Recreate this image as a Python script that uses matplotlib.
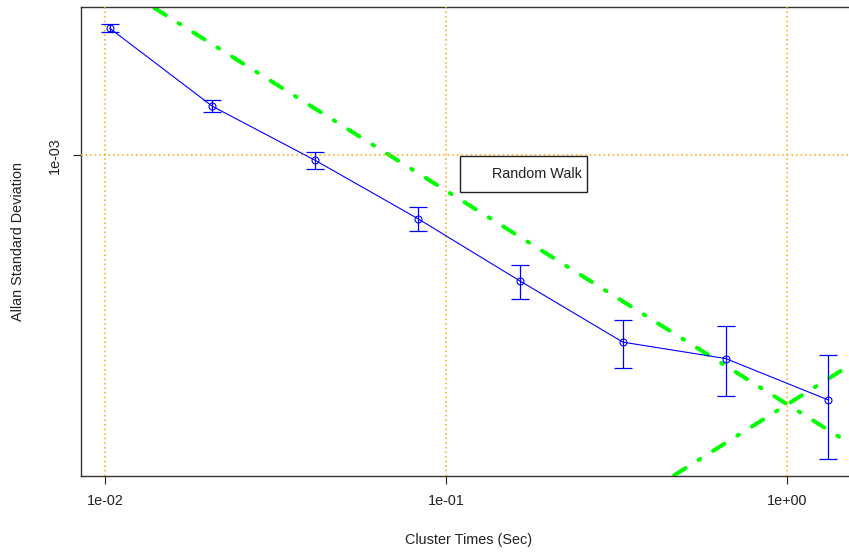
import numpy as np
import matplotlib
matplotlib.use('Agg')
import matplotlib.pyplot as plt
from matplotlib.patches import Rectangle

# allan deviation per cluster time
tau = [0.0103, 0.0206, 0.0412, 0.0824, 0.1648, 0.3296, 0.6592, 1.3184]
adev = [1.983e-3, 1.302e-3, 9.733e-4, 7.108e-4, 5.071e-4, 3.650e-4, 3.342e-4, 2.673e-4]
adev_upper = [2.025e-3, 1.350e-3, 1.0186e-3, 7.558e-4, 5.530e-4, 4.112e-4, 3.981e-4, 3.402e-4]
adev_lower = [1.941e-3, 1.262e-3, 9.290e-4, 6.650e-4, 4.601e-4, 3.183e-4, 2.731e-4, 1.948e-4]

# fitted noise lines: N/sqrt(tau) and K*sqrt(tau)
N_coef = 2.61e-4
K_coef = 2.61e-4

x_ticks = [1e-2, 1e-1, 1e0]
x_tick_labels = ['1e-02', '1e-01', '1e+00']
y_ticks = [1e-3]
y_tick_labels = ['1e-03']
legend_label = 'Random Walk'

plt.rcParams['font.family'] = ['Liberation Sans', 'DejaVu Sans']

tau = np.array(tau)
adev = np.array(adev)
up = np.array(adev_upper)
lo = np.array(adev_lower)


def r_range(a, b):
    # R style 4% extension in log space
    la, lb = np.log10(a), np.log10(b)
    d = (lb - la) * 0.04
    return 10 ** (la - d), 10 ** (lb + d)


W, H = 849, 556
fig = plt.figure(figsize=(W / 100, H / 100), dpi=100)
ax = fig.add_axes([81 / W, (H - 476) / H, 776 / W, 469 / H])
ax.set_xscale('log')
ax.set_yscale('log')

# grid
for xv in x_ticks:
    ax.axvline(xv, color='#FFA500', lw=1.1, ls=(0, (1, 2)), zorder=3)
for yv in y_ticks:
    ax.axhline(yv, color='#FFA500', lw=1.1, ls=(0, (1, 2)), zorder=3)

# noise lines
tt = np.logspace(-3, 1, 300)
ax.plot(tt, N_coef / np.sqrt(tt), color='#00FF00', lw=2.9,
        dashes=(0.45, 3.8, 3.3, 3.8), dash_capstyle='round', zorder=2)
ax.plot(tt, K_coef * np.sqrt(tt), color='#00FF00', lw=2.9,
        dashes=(0.45, 3.8, 3.3, 3.8), dash_capstyle='round', zorder=2)

# data with error bars
ax.errorbar(tau, adev, yerr=[adev - lo, up - adev], fmt='none', ecolor='#0000FF',
            elinewidth=0.9, capsize=6.5, capthick=0.9, zorder=4)
ax.plot(tau, adev, color='#0000FF', lw=0.8, marker='o', mfc='none', ms=5,
        mew=0.8, zorder=5)

ax.set_xlim(*r_range(tau.min(), tau.max()))
ax.set_ylim(*r_range(lo.min(), up.max()))

ax.set_xticks(x_ticks)
ax.set_xticklabels(x_tick_labels)
ax.set_yticks(y_ticks)
ax.set_yticklabels(y_tick_labels)
ax.minorticks_off()
ax.tick_params(axis='both', direction='out', length=5.8, width=0.8,
               labelsize=10.4, colors='#222222')
ax.tick_params(axis='x', pad=7)
ax.tick_params(axis='y', pad=8, labelrotation=90)
for t in ax.get_yticklabels():
    t.set_va('center')

for s in ax.spines.values():
    s.set_color('#333333')
    s.set_linewidth(1)

ax.set_xlabel('Cluster Times (Sec)', fontsize=10.4, color='#222222')
ax.xaxis.set_label_coords(0.5, -(540 - 476) / 469)
ax.xaxis.label.set_va('center')
ax.set_ylabel('Allan Standard Deviation', fontsize=10.4, color='#222222')
ax.yaxis.set_label_coords(-(81 - 18) / 776, 0.5)
ax.yaxis.label.set_va('center')

# legend box (R legend without a line sample)
fig.patches.append(Rectangle((460 / W, 1 - 192 / H), 127 / W, 36 / H,
                             transform=fig.transFigure, fill=True, fc='white',
                             ec='#222222', lw=1, zorder=10))
fig.text(582 / W, 1 - 174 / H, legend_label, ha='right', va='center',
         fontsize=10.4, color='#222222', zorder=11)

fig.savefig('out.png', dpi=100)
